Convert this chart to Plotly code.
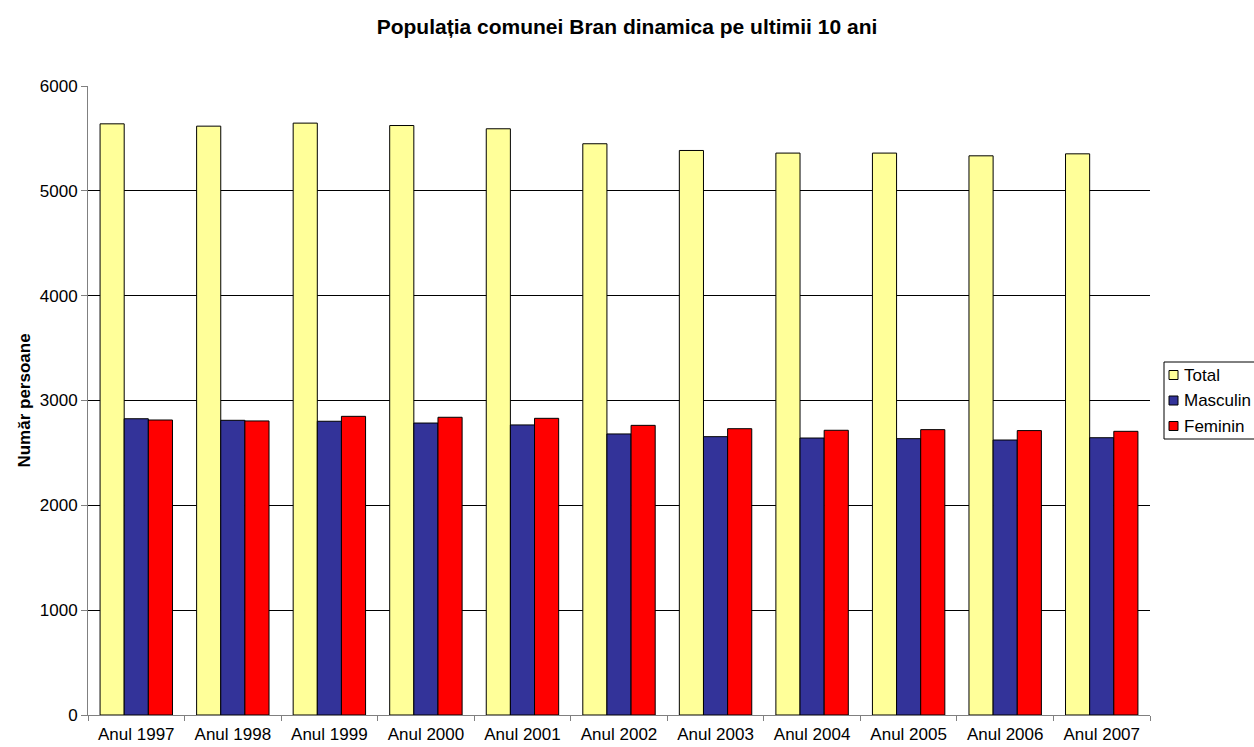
import plotly.graph_objects as go

categories = ["Anul 1997", "Anul 1998", "Anul 1999", "Anul 2000", "Anul 2001", "Anul 2002",
              "Anul 2003", "Anul 2004", "Anul 2005", "Anul 2006", "Anul 2007"]
total = [5639, 5617, 5646, 5623, 5592, 5449, 5385, 5360, 5360, 5334, 5353]
masculin = [2826, 2811, 2802, 2785, 2767, 2681, 2655, 2642, 2636, 2623, 2645]
feminin = [2814, 2805, 2849, 2840, 2830, 2763, 2731, 2716, 2722, 2713, 2706]

series_names = ["Total", "Masculin", "Feminin"]
series_colors = ["#FFFF99", "#333399", "#FF0000"]
series_values = [total, masculin, feminin]

font = "Liberation Sans, Arial, sans-serif"

W, H = 1254, 747
ML, MR, MT, MB = 88, 104, 86, 32
PW = W - ML - MR
PH = H - MT - MB


def px(xpage):
    return (xpage - ML) / PW


def py(ypage):
    return (H - MB - ypage) / PH


fig = go.Figure()
for name, vals, col in zip(series_names, series_values, series_colors):
    fig.add_trace(go.Bar(x=categories, y=vals, name=name,
                         marker=dict(color=col, line=dict(color="black", width=1))))

# custom legend (box partly cut by the right edge, as in the original)
shapes = [dict(type="rect", xref="paper", yref="paper",
               x0=px(1164), x1=px(1262), y0=py(439), y1=py(362),
               line=dict(color="black", width=1), fillcolor="white", layer="above")]
annotations = []
for i, (name, col) in enumerate(zip(series_names, series_colors)):
    yc = 375 + i * 25.5
    shapes.append(dict(type="rect", xref="paper", yref="paper",
                       x0=px(1169), x1=px(1178), y0=py(yc + 4.5), y1=py(yc - 4.5),
                       line=dict(color="black", width=1), fillcolor=col, layer="above"))
    annotations.append(dict(text=name, xref="paper", yref="paper", x=px(1182), y=py(yc),
                             xanchor="left", yanchor="middle", showarrow=False,
                             font=dict(size=17, family=font, color="black")))

fig.update_layout(
    width=W, height=H,
    barmode="group", bargap=0.25, bargroupgap=0,
    plot_bgcolor="white", paper_bgcolor="white",
    margin=dict(l=ML, r=MR, t=MT, b=MB, autoexpand=False),
    font=dict(family=font, size=17, color="black"),
    title=dict(text="<b>Populația comunei Bran dinamica pe ultimii 10 ani</b>",
               x=0.5, xanchor="center", y=1 - 27 / H, yanchor="middle", font=dict(size=21)),
    showlegend=False,
    shapes=shapes,
    annotations=annotations,
)
fig.update_xaxes(showline=True, linecolor="#808080", linewidth=1,
                 ticks="outside", tickson="boundaries", ticklen=5, tickcolor="#808080",
                 showgrid=False, tickfont=dict(size=17), automargin=False, ticklabelstandoff=4)
fig.update_yaxes(range=[0, 6000], dtick=1000, showline=True, linecolor="#808080", linewidth=1,
                 ticks="outside", ticklen=6, tickcolor="#808080",
                 showgrid=True, gridcolor="black", gridwidth=1, zeroline=False,
                 title=dict(text="<b>Număr persoane</b>", font=dict(size=17), standoff=4),
                 tickfont=dict(size=17), automargin=False)
fig.write_html("out.html", config={"displayModeBar": False},
               post_script="document.body.style.margin='0';document.body.style.overflow='hidden';")
